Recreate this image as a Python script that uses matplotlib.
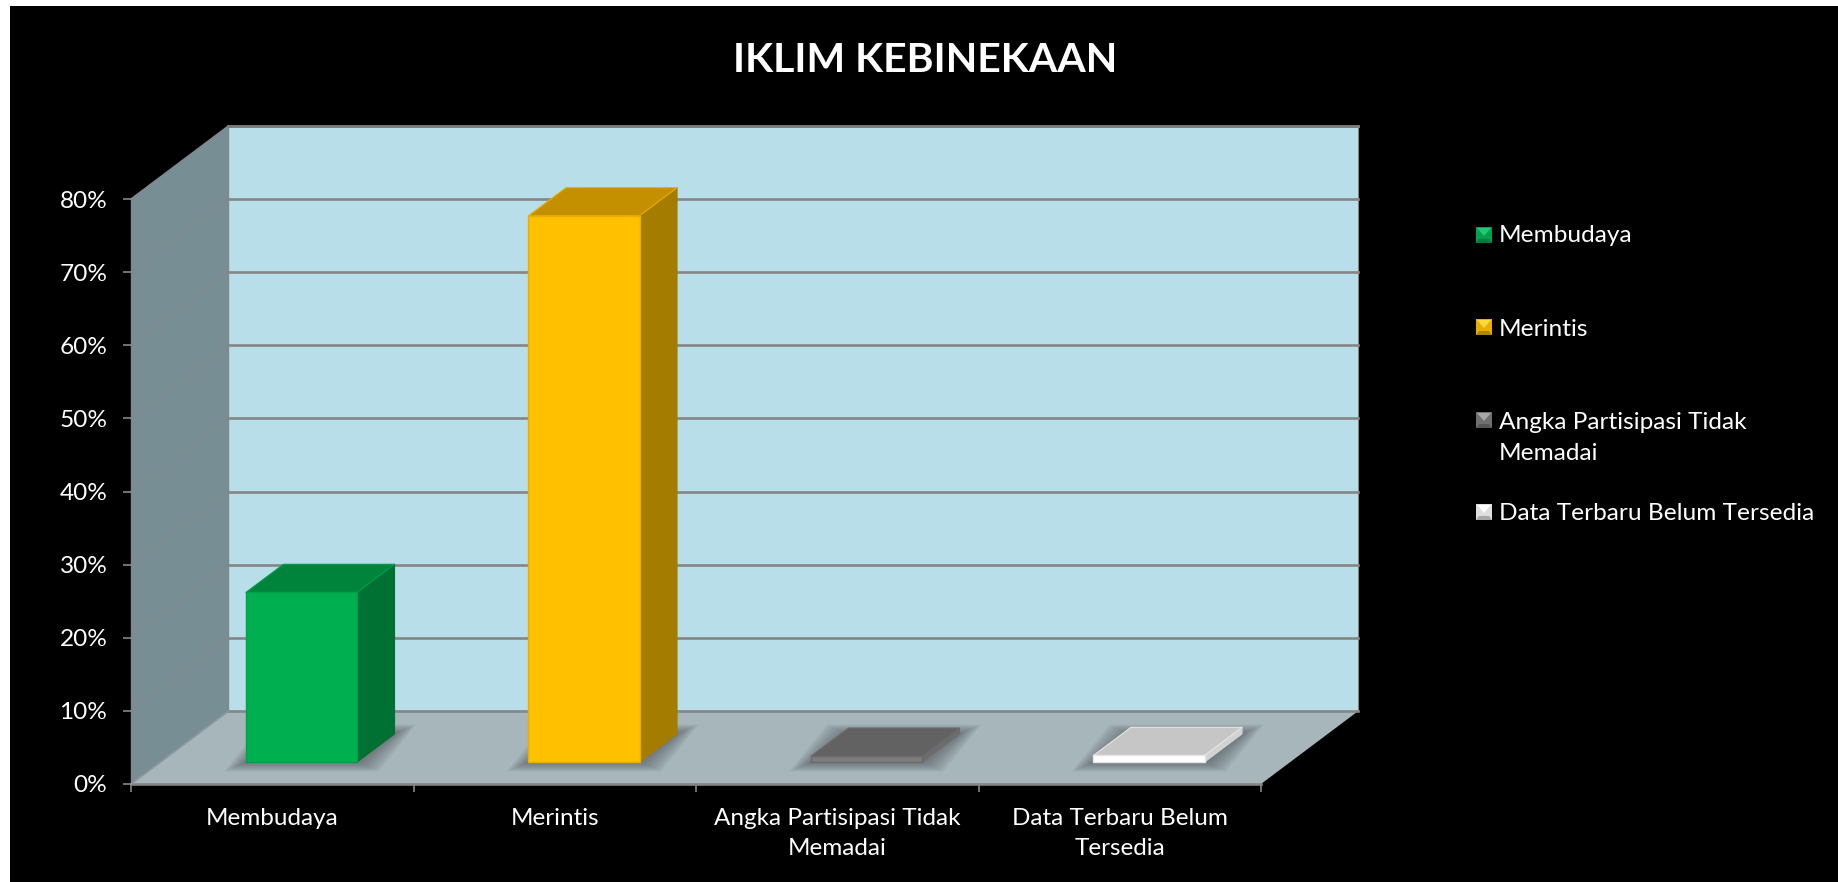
import matplotlib
matplotlib.use("Agg")
import matplotlib.pyplot as plt
from matplotlib.patches import Polygon, Rectangle

plt.rcParams['font.family'] = ['Lato', 'DejaVu Sans']

categories = ['Membudaya', 'Merintis', 'Angka Partisipasi Tidak\nMemadai', 'Data Terbaru Belum\nTersedia']
values = [0.232, 0.747, 0.008, 0.009]
yticks = [0, 0.1, 0.2, 0.3, 0.4, 0.5, 0.6, 0.7, 0.8]
ytick_labels = ['0%', '10%', '20%', '30%', '40%', '50%', '60%', '70%', '80%']
front_colors = ['#00b050', '#ffc000', '#7c7c7c', '#ffffff']
top_colors = ['#00843c', '#c49000', '#626262', '#c6c6c6']
side_colors = ['#007033', '#a47c00', '#6c6c6c', '#d2d2d2']
edge_colors = ['#00a049', '#e8ae00', '#6a6a6a', '#e6e6e6']
swatch_light = ['#22c878', '#ffd83a', '#a8a8a8', '#ffffff']
swatch_mid = ['#00a04c', '#e8ae00', '#707070', '#dedede']
swatch_dark = ['#007a3a', '#b08600', '#565656', '#a8a8a8']

W, H = 1838, 882
# oblique offset of the full chart depth, in data units
DX = 0.345
DY = 0.1
BAR_W = 0.393
D0, D1 = 0.30, 0.685

def proj(x, v, d):
    return (x + d * DX, v + d * DY)

def poly(ax, pts, color, z, edge='none', lw=0, alpha=None):
    ax.add_patch(Polygon(pts, closed=True, facecolor=color, edgecolor=edge, linewidth=lw,
                         zorder=z, clip_on=False, alpha=alpha, joinstyle='round'))

fig = plt.figure(figsize=(W / 100, H / 100), dpi=100, facecolor='white')
fig.add_artist(Rectangle((10 / W, 0), 1 - 10 / W, 1 - 6 / H, transform=fig.transFigure,
                         facecolor='black', edgecolor='none', zorder=-5))

ax = fig.add_axes([131 / W, 1 - 784 / H, 1130 / W, 585 / H])
ax.patch.set_visible(False)
ax.set_xlim(0, 4)
ax.set_ylim(0, 0.8)
for s in ax.spines.values():
    s.set_visible(False)

# walls and floor
poly(ax, [proj(0, 0, 0), proj(0, 0.8, 0), proj(0, 0.8, 1), proj(0, 0, 1)], '#778e95', 1)
poly(ax, [proj(0, 0, 1), proj(0, 0.8, 1), proj(4, 0.8, 1), proj(4, 0, 1)], '#b8dfe9', 1)
poly(ax, [proj(0, 0, 0), proj(0, 0, 1), proj(4, 0, 1), proj(4, 0, 0)], '#a6b6bb', 1)

GRID = '#868686'
for v in yticks:
    a, b, c = proj(0, v, 0), proj(0, v, 1), proj(4, v, 1)
    ax.plot([a[0], b[0]], [a[1], b[1]], color='#808a8c', lw=1.1, zorder=2, clip_on=False)
    ax.plot([b[0], c[0]], [b[1], c[1]], color=GRID, lw=1.9, zorder=2, clip_on=False)
ax.plot([0, 0], [0, 0.8], color='#868686', lw=1.0, zorder=2, clip_on=False)
ax.plot([DX, DX], [DY, 0.8 + DY], color='#868686', lw=1.0, zorder=2, clip_on=False)
ax.plot([DX, 4 + DX], [0.8 + DY, 0.8 + DY], color='#7a7a7a', lw=1.9, zorder=2, clip_on=False)
ax.plot([4 + DX, 4 + DX], [DY, 0.8 + DY], color='#868686', lw=0.8, zorder=2, clip_on=False)
ax.plot([0, 4], [0, 0], color=GRID, lw=1.9, zorder=2, clip_on=False)
ax.plot([0, DX], [0, DY], color='#8f9a9d', lw=1.0, zorder=2, clip_on=False)

# bars
for i, val in enumerate(values):
    x0 = i + 0.5 - BAR_W / 2
    x1 = i + 0.5 + BAR_W / 2
    # soft shadow on the floor, stacked translucent footprints
    for k in range(7):
        g = 0.075 - k * 0.0105
        gy = 0.0125 - k * 0.0018
        pts = [proj(x0 - g, -gy, D0), proj(x0 - g, gy, D1), proj(x1 + g, gy, D1), proj(x1 + g, -gy, D0)]
        poly(ax, pts, '#4a4e50', 3, alpha=0.10)
    poly(ax, [proj(x1, 0, D0), proj(x1, val, D0), proj(x1, val, D1), proj(x1, 0, D1)],
         side_colors[i], 4, edge=side_colors[i], lw=0.8)
    poly(ax, [proj(x0, val, D0), proj(x0, val, D1), proj(x1, val, D1), proj(x1, val, D0)],
         top_colors[i], 4, edge=edge_colors[i], lw=0.8)
    poly(ax, [proj(x0, 0, D0), proj(x0, val, D0), proj(x1, val, D0), proj(x1, 0, D0)],
         front_colors[i], 5, edge=edge_colors[i], lw=1.0)

# axis ticks and labels
ax.set_yticks(yticks, ytick_labels)
ax.set_xticks([0, 1, 2, 3, 4], [])
ax.set_xticks([0.5, 1.5, 2.5, 3.5], categories, minor=True)
ax.tick_params(axis='y', which='major', length=6, width=1.2, color=GRID, labelcolor='white', labelsize=17.6, pad=11)
ax.tick_params(axis='x', which='major', length=6, width=1.2, color=GRID)
ax.tick_params(axis='x', which='minor', length=0, labelcolor='white', labelsize=17.5, pad=17)
for t in ax.get_xticklabels(minor=True):
    t.set_linespacing(1.55)
    t.set_verticalalignment('top')

fig.text(925 / W, 1 - 61 / H, 'IKLIM KEBINEKAAN', color='white', fontsize=29.5, fontweight='bold',
         ha='center', va='center')

# legend, drawn by hand since the rows are not evenly spaced
legend_names = ['Membudaya', 'Merintis', 'Angka Partisipasi Tidak\nMemadai', 'Data Terbaru Belum Tersedia']
legend_tops = [227, 319, 412, 504]
legend_text_y = [236, 329, 438, 514]
SW = 16
for i, name in enumerate(legend_names):
    top = legend_tops[i]
    l, r = 1476, 1476 + SW
    t, b = top, top + SW
    cx, cy = (l + r) / 2, (t + b) / 2
    def to_fig(pts):
        return [(px / W, 1 - py / H) for px, py in pts]
    fig.add_artist(Polygon(to_fig([(l, t), (r, t), (r, b), (l, b)]), transform=fig.transFigure,
                           facecolor=swatch_mid[i], edgecolor='none'))
    fig.add_artist(Polygon(to_fig([(l, b), (r, b), (r - 3, b - 4), (l + 3, b - 4)]), transform=fig.transFigure,
                           facecolor=swatch_dark[i], edgecolor='none'))
    fig.add_artist(Polygon(to_fig([(l + 1, t + 1), (r - 1, t + 1), (cx, cy + 1)]), transform=fig.transFigure,
                           facecolor=swatch_light[i], edgecolor='none'))
    fig.text(1499 / W, 1 - legend_text_y[i] / H, name, color='white', fontsize=17.55, ha='left', va='center',
             linespacing=1.6)

fig.savefig('out.png', dpi=100, facecolor=fig.get_facecolor())
